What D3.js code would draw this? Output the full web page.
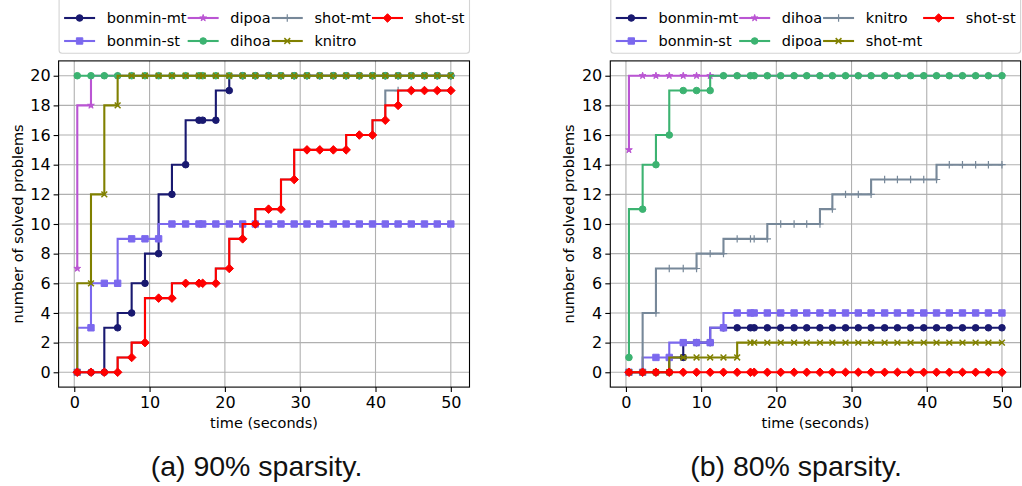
<!DOCTYPE html>
<html><head><meta charset="utf-8">
<script src="https://cdn.jsdelivr.net/npm/d3@7"></script>
<style>body{margin:0;background:#fff} svg{display:block}</style>
</head><body>
<svg id="chart" width="1022" height="486"></svg>
<script>
// Sampling times (seconds) shared by every solver curve
const times = [0.4, 2.22, 3.99, 5.76, 7.62, 9.39, 11.2, 12.97, 14.79, 16.56, 17.05, 18.8, 20.58, 22.36, 24.04, 25.8, 27.45, 29.2, 30.9, 32.6, 34.4, 36.1, 37.85, 39.6, 41.3, 43.0, 44.75, 46.5, 48.2, 50.0];

const xTicks = [0, 10, 20, 30, 40, 50];
const yTicks = [0, 2, 4, 6, 8, 10, 12, 14, 16, 18, 20];

// (a) 90% sparsity: number of solved problems per solver
const labels90 = ["bonmin-mt", "bonmin-st", "dipoa", "dihoa", "shot-mt", "knitro", "shot-st"];
const s90BonminMt = [0,0,0,3,4,6,8,12,14,17,17,17,19,20,20,20,20,20,20,20,20,20,20,20,20,20,20,20,20,20];
const s90BonminSt = [0,3,6,6,9,9,9,10,10,10,10,10,10,10,10,10,10,10,10,10,10,10,10,10,10,10,10,10,10,10];
const s90Dipoa    = [7,18,20,20,20,20,20,20,20,20,20,20,20,20,20,20,20,20,20,20,20,20,20,20,20,20,20,20,20,20];
const s90Dihoa    = [20,20,20,20,20,20,20,20,20,20,20,20,20,20,20,20,20,20,20,20,20,20,20,20,20,20,20,20,20,20];
const s90ShotMt   = [0,0,0,0,1,2,5,5,6,6,6,6,7,9,10,11,11,13,15,15,15,15,16,16,17,19,19,19,19,19];
const s90Knitro   = [0,6,12,18,20,20,20,20,20,20,20,20,20,20,20,20,20,20,20,20,20,20,20,20,20,20,20,20,20,20];
const s90ShotSt   = [0,0,0,0,1,2,5,5,6,6,6,6,7,9,10,11,11,13,15,15,15,15,16,16,17,18,19,19,19,19];

// (b) 80% sparsity
const labels80 = ["bonmin-mt", "bonmin-st", "dihoa", "dipoa", "knitro", "shot-mt", "shot-st"];
const s80BonminMt = [0,0,0,0,1,2,2,3,3,3,3,3,3,3,3,3,3,3,3,3,3,3,3,3,3,3,3,3,3,3];
const s80BonminSt = [0,0,1,1,2,2,2,3,4,4,4,4,4,4,4,4,4,4,4,4,4,4,4,4,4,4,4,4,4,4];
const s80Dihoa    = [15,20,20,20,20,20,20,20,20,20,20,20,20,20,20,20,20,20,20,20,20,20,20,20,20,20,20,20,20,20];
const s80Dipoa    = [1,11,14,16,19,19,19,20,20,20,20,20,20,20,20,20,20,20,20,20,20,20,20,20,20,20,20,20,20,20];
const s80Knitro   = [0,0,4,7,7,7,8,8,9,9,9,9,10,10,10,10,11,12,12,12,13,13,13,13,13,14,14,14,14,14];
const s80ShotMt   = [0,0,0,0,1,1,1,1,1,2,2,2,2,2,2,2,2,2,2,2,2,2,2,2,2,2,2,2,2,2];
const s80ShotSt   = [0,0,0,0,0,0,0,0,0,0,0,0,0,0,0,0,0,0,0,0,0,0,0,0,0,0,0,0,0,0];

// Line colour and marker for each slot in the plotting order
const colors  = ["#191970", "#7b68ee", "#ba55d3", "#3cb371", "#778899", "#808000", "#ff0000"];
const markers = ["circle", "square", "star", "circle", "plus", "cross", "diamond"];

const panels = [
  { labels: labels90, series: [s90BonminMt, s90BonminSt, s90Dipoa, s90Dihoa, s90ShotMt, s90Knitro, s90ShotSt],
    left: 58.6, right: 469.5, caption: "(a) 90% sparsity.", captionX: 256.5 },
  { labels: labels80, series: [s80BonminMt, s80BonminSt, s80Dihoa, s80Dipoa, s80Knitro, s80ShotMt, s80ShotSt],
    left: 610.3, right: 1020.6, caption: "(b) 80% sparsity.", captionX: 796 }
];

const svg = d3.select("#chart");
const plotTop = 60.9, plotBottom = 387.1;
const FONT = "DejaVu Sans, sans-serif";

function markerPath(kind) {
  switch (kind) {
    case "circle":  return d3.symbol(d3.symbolCircle, Math.PI * 3.3 * 3.3)();
    case "square":  return d3.symbol(d3.symbolSquare, 6.4 * 6.4)();
    case "star":    return d3.symbol(d3.symbolStar, 14)();
    case "diamond": { const r = 4.3; return `M0,${-r}L${r},0L0,${r}L${-r},0Z`; }
    case "plus":    { const r = 3.7; return `M${-r},0H${r}M0,${-r}V${r}`; }
    case "cross":   { const r = 2.9; return `M${-r},${-r}L${r},${r}M${-r},${r}L${r},${-r}`; }
  }
}
function styleMarker(sel, kind, color) {
  const stroked = kind === "plus" || kind === "cross";
  sel.attr("d", markerPath(kind))
     .attr("fill", stroked ? "none" : color)
     .attr("stroke", color)
     .attr("stroke-width", stroked ? (kind === "cross" ? 1.5 : 1.2) : 1);
}

panels.forEach(p => {
  const x = d3.scaleLinear().domain([-2.08, 52.48]).range([p.left, p.right]);
  const y = d3.scaleLinear().domain([-1, 21]).range([plotBottom, plotTop]);
  const g = svg.append("g");

  // grid
  g.append("g").selectAll("line").data(xTicks).join("line")
    .attr("x1", d => x(d)).attr("x2", d => x(d)).attr("y1", plotTop).attr("y2", plotBottom)
    .attr("stroke", "#b0b0b0").attr("stroke-width", 1.1);
  g.append("g").selectAll("line").data(yTicks).join("line")
    .attr("y1", d => y(d)).attr("y2", d => y(d)).attr("x1", p.left).attr("x2", p.right)
    .attr("stroke", "#b0b0b0").attr("stroke-width", 1.1);

  // solver curves, drawn in order so later ones sit on top
  const line = d3.line().x((d, i) => x(times[i])).y(d => y(d)).curve(d3.curveStepBefore);
  p.series.forEach((vals, k) => {
    const s = g.append("g");
    s.append("path").datum(vals).attr("d", line)
      .attr("fill", "none").attr("stroke", colors[k]).attr("stroke-width", 2.1)
      .attr("stroke-linejoin", "miter").attr("stroke-linecap", "square");
    s.selectAll("path.m").data(vals).join("path").attr("class", "m")
      .attr("transform", (d, i) => `translate(${x(times[i])},${y(d)})`)
      .call(styleMarker, markers[k], colors[k]);
  });

  // axes
  const ax = g.append("g").attr("transform", `translate(0,${plotBottom})`)
    .call(d3.axisBottom(x).tickValues(xTicks).tickSize(5).tickPadding(5).tickSizeOuter(0));
  const ay = g.append("g").attr("transform", `translate(${p.left},0)`)
    .call(d3.axisLeft(y).tickValues(yTicks).tickSize(5).tickPadding(3).tickSizeOuter(0));
  [ax, ay].forEach(a => {
    a.select(".domain").remove();
    a.selectAll("line").attr("stroke", "#000").attr("stroke-width", 1.1);
    a.selectAll("text").attr("font-family", FONT).attr("font-size", 16).attr("fill", "#000");
  });

  // frame
  g.append("rect").attr("x", p.left).attr("y", plotTop)
    .attr("width", p.right - p.left).attr("height", plotBottom - plotTop)
    .attr("fill", "none").attr("stroke", "#000").attr("stroke-width", 1.1);

  // axis labels
  g.append("text").attr("x", (p.left + p.right) / 2).attr("y", 427.5)
    .attr("text-anchor", "middle").attr("font-family", FONT).attr("font-size", 14.5)
    .text("time (seconds)");
  g.append("text")
    .attr("transform", `translate(${p.left - 36},${(plotTop + plotBottom) / 2}) rotate(-90)`)
    .attr("text-anchor", "middle").attr("font-family", FONT).attr("font-size", 14.5)
    .text("number of solved problems");

  // caption
  svg.append("text").attr("x", p.captionX).attr("y", 476)
    .attr("text-anchor", "middle").attr("font-family", "Liberation Sans, Arial, sans-serif")
    .attr("font-size", 28.5).attr("fill", "#111").text(p.caption);

  // legend: 4 columns spread across the axes width, 2 rows
  const lg = svg.append("g");
  const lx0 = p.left + 0.5, lx1 = p.right;
  lg.append("rect").attr("x", lx0).attr("y", -6).attr("width", lx1 - lx0).attr("height", 59.3)
    .attr("rx", 3).attr("fill", "#fff").attr("fill-opacity", 0.8)
    .attr("stroke", "#d4d4d4").attr("stroke-width", 1.1);
  const ncol = 4, rowsY = [18, 41], handleW = 31, gap = 11.7, pad = 5;
  const cols = d3.range(ncol).map(c => p.labels.filter((_, i) => Math.floor(i / 2) === c));
  const measure = t => {
    const tmp = lg.append("text").attr("font-family", FONT).attr("font-size", 14.5).text(t);
    const w = tmp.node().getComputedTextLength(); tmp.remove(); return w;
  };
  const colW = cols.map(c => handleW + gap + d3.max(c, measure));
  const spacing = ((lx1 - lx0) - 2 * pad - d3.sum(colW)) / (ncol - 1);
  let cx = lx0 + pad;
  p.labels.forEach((lab, i) => {
    const c = Math.floor(i / 2), r = i % 2;
    if (r === 0 && c > 0) cx += colW[c - 1] + spacing;
    const yy = rowsY[r];
    lg.append("line").attr("x1", cx).attr("x2", cx + handleW).attr("y1", yy).attr("y2", yy)
      .attr("stroke", colors[i]).attr("stroke-width", 2.1);
    lg.append("path").attr("transform", `translate(${cx + handleW / 2},${yy})`)
      .call(styleMarker, markers[i], colors[i]);
    lg.append("text").attr("x", cx + handleW + gap).attr("y", yy + 5.2)
      .attr("font-family", FONT).attr("font-size", 14.5).text(lab);
  });
});
</script>
</body></html>
